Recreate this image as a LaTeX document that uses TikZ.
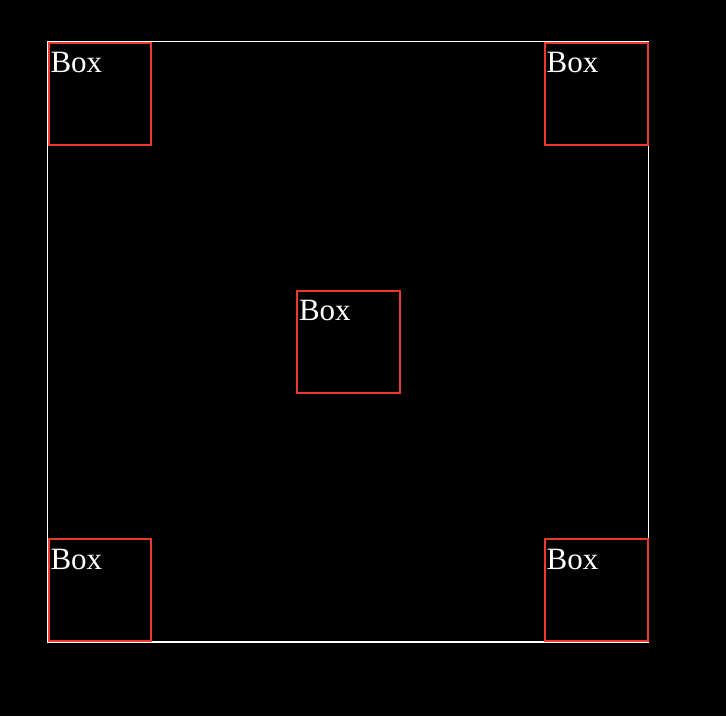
\documentclass[tikz,border=0pt]{standalone}
\usepackage{fontspec}
\setmainfont{Liberation Serif}
\usetikzlibrary{calc}
\definecolor{boxred}{RGB}{232,58,46}
\tikzset{
  redbox/.style={draw=boxred, line width=2pt, minimum width=102.5pt, minimum height=102pt, inner sep=0pt, outer sep=0pt, anchor=north west},
  boxtext/.style={text=white, font=\fontsize{31}{31}\selectfont, inner sep=0pt, anchor=base west},
  frame/.style={draw=white, line width=1.8pt}
}
\begin{document}
\begin{tikzpicture}[x=1pt,y=1pt]
\fill[black] (0,0) rectangle (726,716);
\useasboundingbox (0,0) rectangle (726,716);
\draw[frame] (47.5,716-41.5) rectangle (648.5,716-642);
\node[redbox] (tl) at (48.8,716-43) {};
\node[redbox] (tr) at (545,716-43) {};
\node[redbox] (c) at (297.3,716-291) {};
\node[redbox] (bl) at (48.8,716-539) {};
\node[redbox] (br) at (545,716-539) {};
\foreach \n in {tl,tr,c,bl,br}{
  \node[boxtext] (\n-t) at ($(\n.north west)+(1.5,-30)$) {Box};
}
\end{tikzpicture}
\end{document}
